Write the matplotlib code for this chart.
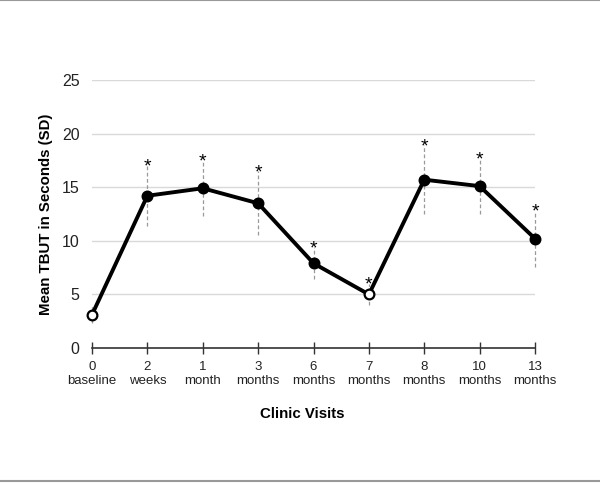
import matplotlib
matplotlib.use("Agg")
import matplotlib.pyplot as plt
from matplotlib.lines import Line2D

plt.rcParams['font.family'] = ['Liberation Sans', 'DejaVu Sans']

visits = ["0\nbaseline", "2\nweeks", "1\nmonth", "3\nmonths", "6\nmonths",
          "7\nmonths", "8\nmonths", "10\nmonths", "13\nmonths"]
means = [3.1, 14.2, 14.9, 13.5, 7.9, 5.0, 15.7, 15.1, 10.2]
sds = [0.8, 2.8, 2.6, 3.0, 1.5, 1.0, 3.2, 2.6, 2.6]
significant = [False, True, True, True, True, True, True, True, True]
open_marker = [True, False, False, False, False, True, False, False, False]

fig = plt.figure(figsize=(6.0, 4.83), dpi=100)
ax = fig.add_axes([0.1533, 0.2795, 0.7384, 0.5549])

x = list(range(len(visits)))

for xi, m, s, sig in zip(x, means, sds, significant):
    ax.plot([xi, xi], [m - s, m + s], linestyle=(0, (3, 2)), color='#999999',
            linewidth=0.9, zorder=2, clip_on=False)
    if sig:
        ax.text(xi, m + s - 0.55, "*", ha='center', va='baseline', fontsize=14,
                color='black')

ax.plot(x, means, color='black', linewidth=2.8, zorder=3, clip_on=False)
for xi, m, op in zip(x, means, open_marker):
    ax.plot([xi], [m], marker='o', markersize=7,
            markerfacecolor='white' if op else 'black',
            markeredgecolor='black', markeredgewidth=1.6, zorder=4, clip_on=False)

ax.set_xlim(0, len(visits) - 1)
ax.set_ylim(0, 25)
ax.set_yticks([0, 5, 10, 15, 20, 25])
ax.set_xticks(x)
ax.set_xticklabels(visits, fontsize=9.5, color='#222222', linespacing=1.25)
ax.tick_params(axis='y', length=0, labelsize=11.5, labelcolor='#222222', pad=9)
ax.tick_params(axis='x', direction='inout', length=8, width=1, color='#333333', pad=5)

ax.grid(axis='y', color='#d9d9d9', linewidth=1)
ax.set_axisbelow(True)
for sp in ['left', 'right', 'top']:
    ax.spines[sp].set_visible(False)
ax.spines['bottom'].set_color('#333333')
ax.spines['bottom'].set_linewidth(1.2)

ax.set_ylabel("Mean TBUT in Seconds (SD)", fontsize=10.8, fontweight='bold', labelpad=6)
ax.set_xlabel("Clinic Visits", fontsize=10.8, fontweight='bold', labelpad=18)
ax.xaxis.set_label_coords((302 - 92) / 443, -0.22)

fig.add_artist(Line2D([0, 1], [0.999, 0.999], color='#999999', linewidth=1.5, transform=fig.transFigure))
fig.add_artist(Line2D([0, 1], [0.004, 0.004], color='#999999', linewidth=1.5, transform=fig.transFigure))

fig.savefig("out.png", dpi=100)
